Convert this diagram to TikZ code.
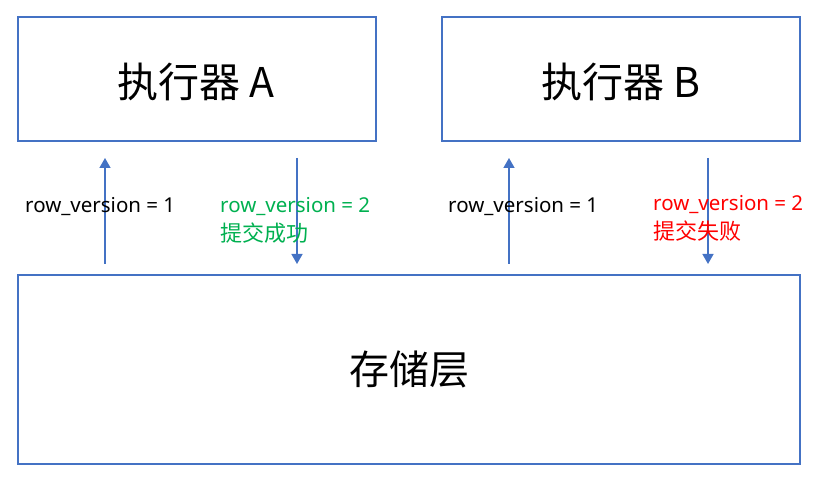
\documentclass[tikz,border=0pt]{standalone}
\usepackage{fontspec}
\setmainfont{Noto Sans}
\newfontfamily\cjk{Noto Sans CJK SC}
\usetikzlibrary{arrows.meta}
\definecolor{obl}{HTML}{4472C4}
\definecolor{ogr}{HTML}{00B050}
\definecolor{ore}{HTML}{FF0000}
\tikzset{
  boxst/.style={draw=obl, line width=1.6pt, minimum width=#1, inner sep=0pt},
  arr/.style={draw=obl, line width=1.5pt, -{Triangle[length=10pt,width=11pt]}},
  lbl/.style={font=\fontsize{20.5}{29}\selectfont, anchor=west, align=left, inner sep=0pt}
}
\begin{document}
\begin{tikzpicture}[x=1pt,y=-1pt]
\useasboundingbox (0,0) rectangle (816,486);
\node[boxst=358pt, minimum height=124pt] (A) at (197,79) {};
\node[boxst=358pt, minimum height=124pt] (B) at (621,79) {};
\node[font=\fontsize{41}{44}\selectfont] (At) at (196,82) {\cjk 执行器 A};
\node[font=\fontsize{41}{44}\selectfont] (Bt) at (621,82) {\cjk 执行器 B};
\node[boxst=782pt, minimum height=189pt, font=\fontsize{40}{44}\selectfont] (S) at (409,369.5) {\cjk 存储层};
\coordinate (a1) at (105,264);
\coordinate (a2) at (297,158);
\coordinate (b1) at (509,264);
\coordinate (b2) at (708,158);
\draw[arr] (a1) -- (a1 |- a2);
\draw[arr] (a2) -- (a2 |- a1);
\draw[arr] (b1) -- (b1 |- b2);
\draw[arr] (b2) -- (b2 |- b1);
\node[lbl] (la) at (25,207) {row\_version = 1};
\node[lbl, text=ogr, anchor=north west] (lg) at (220,197) {row\_version = 2\\{\cjk\fontsize{22}{29}\selectfont 提交成功}};
\node[lbl] (lb) at (448,207) {row\_version = 1};
\node[lbl, text=ore, anchor=north west] (lr) at (653,195) {row\_version = 2\\{\cjk\fontsize{22}{29}\selectfont 提交失败}};
\end{tikzpicture}
\end{document}
